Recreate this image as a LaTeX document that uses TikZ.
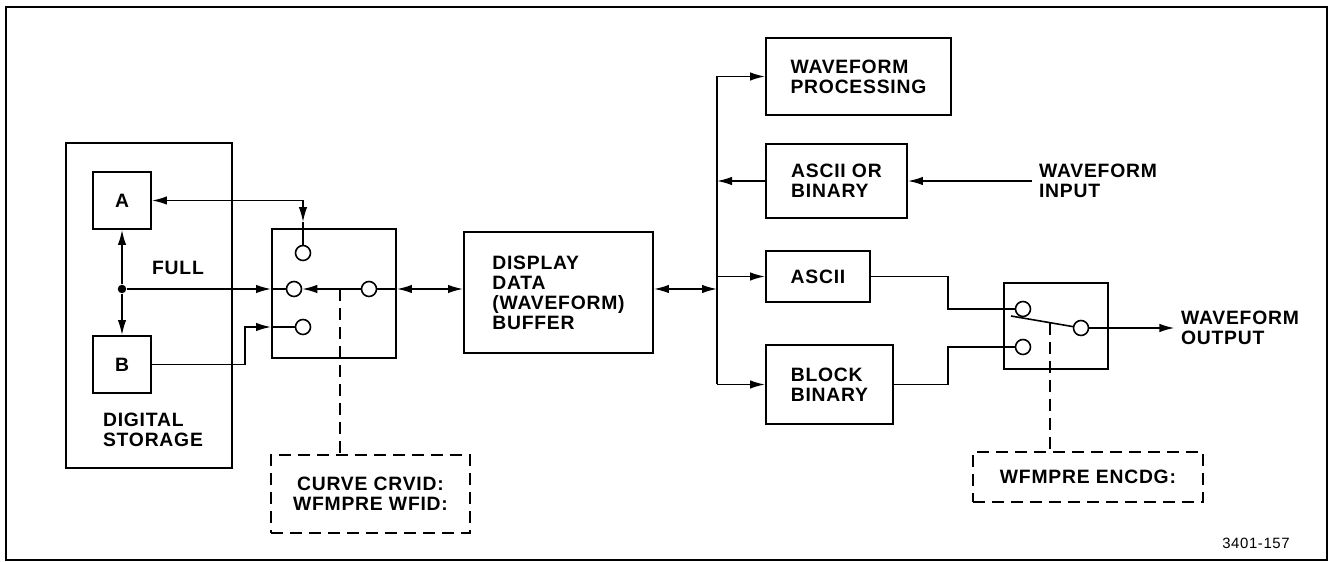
\documentclass[tikz,border=0pt]{standalone}
\usepackage{fontspec}
\setmainfont[LetterSpace=4]{Liberation Sans}
\usetikzlibrary{arrows.meta}

\newcommand{\diagfont}{\fontsize{11}{11.4}\selectfont\bfseries}

\tikzset{
	blk/.style={draw, line width=1.1pt, align=left, inner sep=0pt, font=\diagfont},
	ctlbox/.style={draw, line width=1.1pt, dash pattern=on 0.24cm off 0.14cm, align=center, inner sep=0pt, font=\diagfont},
	ctlline/.style={line width=0.9pt, dash pattern=on 0.24cm off 0.14cm},
	contact/.style={circle, draw, line width=0.9pt, fill=white, inner sep=0pt, minimum size=0.3cm},
	jdot/.style={circle, fill, inner sep=0pt, minimum size=0.17cm},
	lbl/.style={align=left, font=\diagfont}
}

\begin{document}
\begin{tikzpicture}[>={Latex[length=3mm,width=1.7mm]}, line width=0.9pt]
	\useasboundingbox (0,0) rectangle (26.6,-11.24);
	\draw[line width=1pt] (0.12,-0.14) rectangle (26.54,-11.2);

	% digital storage
	\node[blk, line width=0.8pt, minimum width=3.32cm, minimum height=6.5cm] (store) at (2.98,-6.11) {};
	\node[blk, minimum width=1.16cm, minimum height=1.14cm] (A) at (2.44,-4.01) {A};
	\node[blk, minimum width=1.16cm, minimum height=1.14cm] (B) at (2.44,-7.29) {B};
	\node[lbl] (full) at (3.56,-5.36) {FULL};
	\node[lbl] (dstor) at (3.06,-8.6) {DIGITAL\\STORAGE};
	\node[jdot] (jn) at (2.44,-5.78) {};

	% waveform select switch
	\node[blk, minimum width=2.48cm, minimum height=2.58cm] (sw1) at (6.68,-5.87) {};
	\node[contact] (c1top) at (6.06,-5.06) {};
	\node[contact] (c1mid) at (5.88,-5.78) {};
	\node[contact] (c1rt) at (7.38,-5.78) {};
	\node[contact] (c1bot) at (6.06,-6.54) {};
	\coordinate (tap1) at (6.8,-5.78);
	\node[ctlbox, minimum width=3.98cm, minimum height=1.56cm] (crv) at (7.41,-9.88) {CURVE CRVID:\\WFMPRE WFID:};

	\node[blk, minimum width=3.78cm, minimum height=2.42cm] (buf) at (11.17,-5.85) {DISPLAY\\DATA\\(WAVEFORM)\\BUFFER};

	% right hand blocks
	\coordinate (bus) at (14.34,0);
	\node[blk, minimum width=3.7cm, minimum height=1.54cm] (wp) at (17.17,-1.53) {WAVEFORM\\PROCESSING};
	\node[blk, minimum width=2.82cm, minimum height=1.48cm] (aob) at (16.73,-3.62) {ASCII OR\\BINARY};
	\node[blk, minimum width=2.08cm, minimum height=1.02cm] (asc) at (16.36,-5.53) {ASCII};
	\node[blk, minimum width=2.54cm, minimum height=1.58cm] (bb) at (16.59,-7.69) {BLOCK\\BINARY};
	\node[lbl] (winp) at (21.96,-3.62) {WAVEFORM\\INPUT};

	% encoding switch
	\node[blk, minimum width=2.08cm, minimum height=1.72cm] (sw2) at (21.12,-6.52) {};
	\node[contact] (c2a) at (20.46,-6.18) {};
	\node[contact] (c2b) at (20.46,-6.94) {};
	\node[contact] (c2o) at (21.62,-6.56) {};
	\coordinate (lev) at (20.22,-6.32);
	\coordinate (tap2) at (21.0,-6.455);
	\node[ctlbox, minimum width=4.6cm, minimum height=1cm] (enc) at (21.76,-9.54) {WFMPRE ENCDG:};
	\node[lbl] (wout) at (24.8,-6.56) {WAVEFORM\\OUTPUT};
	\node[font=\fontsize{8.5}{10}\selectfont] (fig) at (25.12,-10.86) {3401-157};

	% connections, left side
	\draw[<->] (A.east) -| ([yshift=0.12cm]sw1.north -| c1top);
	\draw ([yshift=0.12cm]sw1.north -| c1top) -- (c1top);
	\draw[->] (jn) -- (A.south);
	\draw[->] (jn) -- (B.north);
	\draw[->] (jn) -- (sw1.west |- c1mid);
	\draw (sw1.west |- c1mid) -- (c1mid);
	\draw[->] (B.east) -- ++(1.86,0) |- (sw1.west |- c1bot);
	\draw (sw1.west |- c1bot) -- (c1bot);
	\draw[->] (c1rt) -- (c1mid);
	\draw (c1rt) -- (sw1.east |- c1rt);
	\draw[<->] (sw1.east |- c1rt) -- (buf.west |- c1rt);
	\draw[ctlline] (tap1) -- (tap1 |- crv.north);

	% bus
	\draw[<->] (buf.east |- c1rt) -- (bus |- c1rt);
	\draw (wp.west -| bus) -- (bb.west -| bus);
	\draw[->] (wp.west -| bus) -- (wp.west);
	\draw[->] (aob.west) -- (aob.west -| bus);
	\draw[->] (asc.west -| bus) -- (asc.west);
	\draw[->] (bb.west -| bus) -- (bb.west);
	\draw[->] (winp.west) -- (aob.east);

	% output side
	\draw (asc.east) -- ++(1.54,0) |- (c2a.west);
	\draw (bb.east) -- ++(1.08,0) |- (c2b.west);
	\draw (lev) -- (c2o);
	\draw[->] (c2o.east) -- (wout.west);
	\draw[ctlline] (tap2) -- (tap2 |- enc.north);
\end{tikzpicture}
\end{document}
